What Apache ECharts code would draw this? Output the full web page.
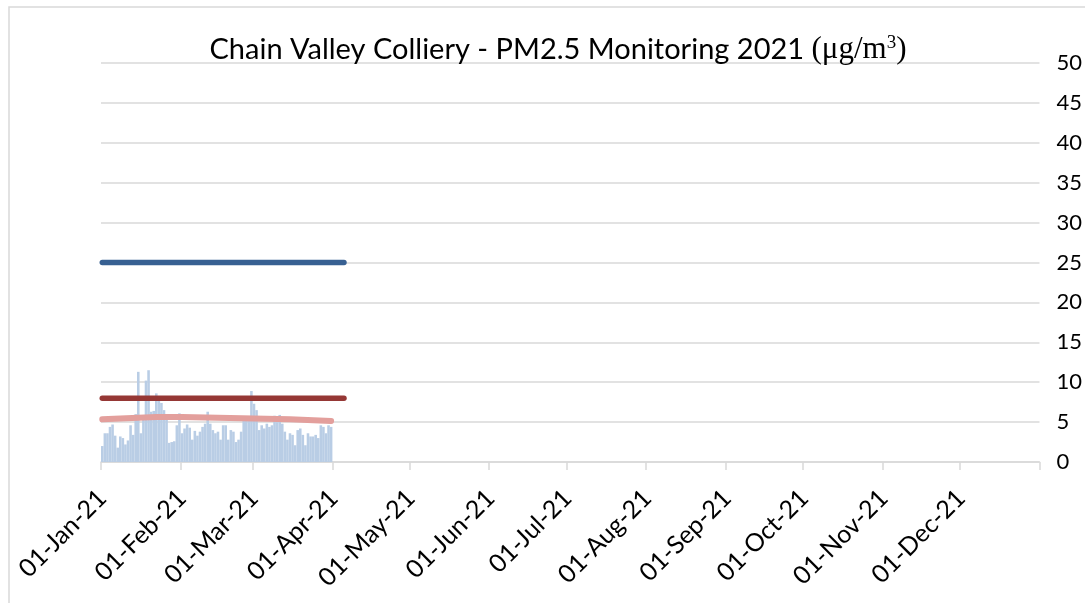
<!DOCTYPE html>
<html>
<head>
<meta charset="utf-8">
<script src="https://cdn.jsdelivr.net/npm/echarts@6/dist/echarts.min.js"></script>
<style>
  html, body { margin: 0; padding: 0; background: #ffffff; }
  #chart { width: 1085px; height: 603px; }
</style>
</head>
<body>
<div id="chart"></div>
<script>
// ---- Data ----
const titleMain = 'Chain Valley Colliery - PM2.5 Monitoring 2021 ';
const yTicks = [0, 5, 10, 15, 20, 25, 30, 35, 40, 45, 50];

// Daily PM2.5 (µg/m3) from 01-Jan-21
const pm25Jan = [2.0, 3.6, 3.6, 4.4, 4.7, 3.3, 1.8, 3.2, 3.0, 2.2, 2.7, 4.6, 3.4, 6.0, 11.3, 3.6,
                 5.8, 10.2, 11.5, 6.3, 6.4, 8.6, 8.2, 7.4, 6.5, 6.0, 2.4, 2.5, 2.6, 4.6, 6.1];
const pm25Feb = [3.6, 4.2, 4.7, 4.3, 2.8, 3.9, 3.3, 3.8, 4.4, 4.8, 6.3, 4.8, 4.0, 3.6, 3.8, 2.8,
                 4.6, 4.6, 2.8, 4.0, 3.8, 2.5, 2.8, 3.8, 5.3, 5.7, 5.7, 8.9];
const pm25Mar = [7.3, 6.5, 4.0, 4.6, 4.2, 4.8, 4.4, 4.6, 5.8, 5.0, 5.9, 4.8, 3.8, 2.8, 3.6, 3.4,
                 2.1, 4.0, 4.2, 3.4, 2.1, 3.6, 3.2, 3.2, 3.4, 3.0, 4.6, 4.4, 3.6, 4.6, 4.4];

// Standards and annual running average
const standard24h = [['01-Jan-21', 25], ['05-Apr-21', 25]];
const standardAnnual = [['01-Jan-21', 8], ['05-Apr-21', 8]];
const runningAvg = [
  ['01-Jan-21', 5.35], ['08-Jan-21', 5.45], ['15-Jan-21', 5.55], ['22-Jan-21', 5.65],
  ['01-Feb-21', 5.65], ['15-Feb-21', 5.55], ['01-Mar-21', 5.45], ['15-Mar-21', 5.35],
  ['31-Mar-21', 5.15]
];

// ---- Category axis: every day of 2021 ----
const MONTHS = ['Jan','Feb','Mar','Apr','May','Jun','Jul','Aug','Sep','Oct','Nov','Dec'];
const categories = [];
for (let t = Date.UTC(2021, 0, 1); t <= Date.UTC(2021, 11, 31); t += 86400000) {
  const d = new Date(t);
  const dd = String(d.getUTCDate()).padStart(2, '0');
  categories.push(dd + '-' + MONTHS[d.getUTCMonth()] + '-21');
}
const pm25 = pm25Jan.concat(pm25Feb, pm25Mar);
const barData = pm25.map((v, i) => [categories[i], v]);

const isMonthStart = (idx) => categories[idx].startsWith('01-');

const chart = echarts.init(document.getElementById('chart'), null, { renderer: 'canvas' });
chart.setOption({
  animation: false,
  backgroundColor: '#ffffff',
  title: {
    text: '{a|' + titleMain + '}{b|(μg/m}{c|3}{b|)}',
    left: 553,
    top: 29,
    textAlign: 'center',
    textStyle: {
      fontWeight: 'normal',
      rich: {
        a: { fontFamily: 'Lato', fontSize: 29, fontWeight: 'normal', color: '#000000' },
        b: { fontFamily: 'Liberation Serif', fontSize: 31, fontWeight: 'normal', color: '#000000' },
        c: { fontFamily: 'Liberation Serif', fontSize: 19, fontWeight: 'normal', color: '#000000', verticalAlign: 'top', padding: [0, 0, 10, 0] }
      }
    }
  },
  graphic: [{
    type: 'rect',
    shape: { x: 9, y: 7, width: 1200, height: 700 },
    style: { fill: 'none', stroke: '#d9d9d9', lineWidth: 1.5 },
    silent: true,
    z: -10
  }],
  grid: { left: 101, right: 45, top: 63, bottom: 141, containLabel: false },
  xAxis: {
    type: 'category',
    data: categories,
    boundaryGap: true,
    axisLine: { show: true, lineStyle: { color: '#d9d9d9', width: 1.5 } },
    axisTick: {
      show: true, length: 8, interval: (idx) => isMonthStart(idx),
      lineStyle: { color: '#d9d9d9', width: 1.5 }
    },
    axisLabel: {
      interval: (idx) => isMonthStart(idx),
      rotate: 45,
      margin: 32,
      fontFamily: 'Lato',
      fontSize: 25,
      color: '#000000'
    },
    splitLine: { show: false }
  },
  yAxis: {
    type: 'value',
    position: 'right',
    min: yTicks[0],
    max: yTicks[yTicks.length - 1],
    interval: 5,
    axisLine: { show: false },
    axisTick: { show: false },
    axisLabel: { margin: 17, fontFamily: 'Lato', fontSize: 22, color: '#000000' },
    splitLine: { show: true, lineStyle: { color: '#d9d9d9', width: 1.5 } }
  },
  series: [
    {
      name: 'PM2.5',
      type: 'bar',
      data: barData,
      barCategoryGap: '0%',
      itemStyle: { color: '#b9cde5' },
      z: 1
    },
    {
      name: '24hr Standard',
      type: 'line',
      data: standard24h,
      symbol: 'none',
      lineStyle: { color: '#376092', width: 5.5, cap: 'round' },
      z: 3
    },
    {
      name: 'Annual Standard',
      type: 'line',
      data: standardAnnual,
      symbol: 'none',
      lineStyle: { color: '#953735', width: 5.5, cap: 'round' },
      z: 3
    },
    {
      name: 'Annual Average',
      type: 'line',
      data: runningAvg,
      symbol: 'none',
      lineStyle: { color: '#e39f9c', width: 6, cap: 'round' },
      z: 2
    }
  ]
});
</script>
</body>
</html>
